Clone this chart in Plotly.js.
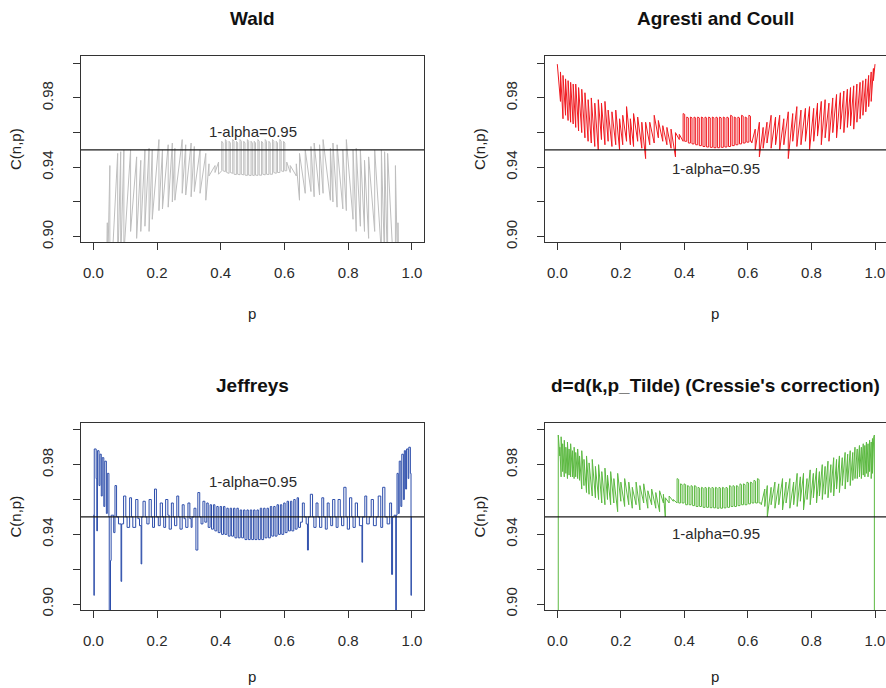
<!DOCTYPE html>
<html>
<head>
<meta charset="utf-8">
<script src="https://cdn.plot.ly/plotly-3.0.1.min.js"></script>
<style>
  html, body { margin: 0; padding: 0; background: #ffffff; overflow: hidden; }
  #chart { width: 886px; height: 688px; }
</style>
</head>
<body>
<div id="chart"></div>
<script>
// ---------------- DATA ----------------
// Each curve is listed by its jump points: p where the coverage jumps,
// the coverage right after the jump (At) and just before the next jump (To).

const panelTitles = ["Wald", "Agresti and Coull", "Jeffreys", "d=d(k,p_Tilde) (Cressie's correction)"];
const xTickVals = [0, 0.2, 0.4, 0.6, 0.8, 1.0];
const xTickText = ["0.0", "0.2", "0.4", "0.6", "0.8", "1.0"];
const yTickVals = [0.90, 0.92, 0.94, 0.96, 0.98, 1.00];
const yTickText = ["0.90", "", "0.94", "", "0.98", ""];
const nominalLevel = 0.95;
const nominalLabel = "1-alpha=0.95";
const nominalLabelC = [0.9605, 0.9394, 0.9705, 0.9407];

// Wald
const waldP = [
  0.040,0.044,0.052,0.0765,0.086,0.096,0.117,0.136,0.149,0.162,0.175,0.185,0.206,0.217,0.235,0.248,0.256,0.279,0.290,0.307,0.317,0.335,0.353,0.363,0.382,0.393,
  0.403,0.407,0.4145,0.4185,0.426,0.430,0.4375,0.4415,0.449,0.453,0.4605,0.4645,0.472,0.476,0.4835,0.4875,0.495,0.499,
  0.505,0.509,0.5165,0.5205,0.528,0.532,0.5395,0.5435,0.551,0.555,0.5625,0.5665,0.574,0.578,0.5855,0.5895,0.597,0.601,
  0.607,0.618,0.637,0.647,0.665,0.683,0.693,0.710,0.721,0.744,0.752,0.765,0.783,0.794,0.815,0.825,0.838,0.851,0.864,0.883,0.904,0.914,0.9235,0.948,0.956,0.960];
const waldAt = [
  0.850,0.870,0.860,0.880,0.885,0.890,0.903,0.899,0.903,0.906,0.903,0.910,0.915,0.916,0.917,0.920,0.921,0.925,0.924,0.923,0.926,0.925,0.921,0.935,0.937,0.936,
  0.955,0.938,0.956,0.937,0.955,0.937,0.956,0.936,0.955,0.936,0.956,0.936,0.955,0.9355,0.956,0.9355,0.955,0.9355,
  0.955,0.9355,0.956,0.9355,0.955,0.936,0.956,0.936,0.955,0.936,0.956,0.937,0.955,0.937,0.956,0.938,0.955,0.938,
  0.943,0.941,0.942,0.948,0.950,0.952,0.954,0.953,0.956,0.951,0.954,0.953,0.950,0.956,0.950,0.951,0.950,0.944,0.946,0.950,0.950,0.949,0.948,0.941,0.908,0.850];
const waldTo = [
  0.908,0.941,0.948,0.949,0.950,0.950,0.946,0.944,0.950,0.951,0.950,0.956,0.950,0.953,0.954,0.951,0.956,0.953,0.954,0.952,0.950,0.948,0.942,0.941,0.943,0.938,
  0.954,0.9375,0.955,0.9365,0.954,0.9365,0.955,0.9358,0.954,0.9357,0.955,0.9356,0.954,0.9353,0.955,0.9352,0.954,0.9352,
  0.954,0.9353,0.955,0.9354,0.954,0.9356,0.955,0.9358,0.954,0.936,0.955,0.9365,0.954,0.937,0.955,0.9375,0.954,0.938,
  0.937,0.935,0.921,0.925,0.926,0.923,0.924,0.925,0.921,0.920,0.917,0.916,0.915,0.910,0.903,0.906,0.903,0.899,0.903,0.890,0.885,0.880,0.860,0.870,0.850,0.850];

// Agresti and Coull
const agrestiP = [
  0.000,0.010,0.018,0.026,0.034,0.042,0.050,0.058,0.067,0.077,0.087,0.097,0.107,0.118,0.129,0.139,0.150,0.160,0.172,0.184,0.196,0.206,0.218,0.230,0.240,0.253,0.266,0.278,0.291,0.305,0.318,0.332,0.345,0.358,0.372,0.384,
  0.396,0.401,0.4075,0.4125,0.419,0.424,0.4305,0.4355,0.442,0.447,0.4535,0.4585,0.465,0.470,0.4765,0.4815,0.488,0.493,0.4995,0.5045,
  0.511,0.516,0.5225,0.5275,0.534,0.539,0.5455,0.5505,0.557,0.562,0.5685,0.5735,0.580,0.585,0.5915,0.5965,0.603,0.608,
  0.612,0.623,0.636,0.648,0.660,0.673,0.687,0.700,0.713,0.727,0.741,0.754,0.767,0.781,0.794,0.807,0.819,0.831,0.843,0.855,0.867,0.879,0.891,0.902,0.913,0.923,0.933,0.943,0.953,0.962,0.971,0.980,0.988,0.995,1.000];
const agrestiAt = [
  0.9995,0.995,0.993,0.991,0.990,0.989,0.988,0.988,0.986,0.985,0.983,0.979,0.980,0.977,0.979,0.977,0.978,0.973,0.972,0.973,0.968,0.970,0.975,0.968,0.971,0.969,0.966,0.966,0.966,0.970,0.967,0.964,0.963,0.962,0.960,0.959,
  0.971,0.955,0.969,0.954,0.969,0.9535,0.969,0.953,0.969,0.9525,0.969,0.952,0.969,0.9517,0.969,0.9515,0.969,0.9513,0.969,0.9513,
  0.969,0.9515,0.969,0.9517,0.969,0.952,0.970,0.9525,0.969,0.953,0.969,0.9535,0.970,0.954,0.969,0.9545,0.970,0.955,
  0.954,0.950,0.946,0.951,0.954,0.951,0.953,0.950,0.953,0.945,0.955,0.952,0.953,0.955,0.950,0.955,0.958,0.953,0.957,0.955,0.960,0.957,0.962,0.960,0.963,0.964,0.962,0.966,0.968,0.970,0.972,0.975,0.978,0.990,0.9995];
const agrestiTo = [
  0.978,0.968,0.970,0.967,0.966,0.965,0.963,0.961,0.960,0.957,0.955,0.954,0.952,0.950,0.956,0.953,0.955,0.952,0.953,0.950,0.953,0.955,0.953,0.952,0.955,0.951,0.945,0.953,0.954,0.957,0.955,0.953,0.951,0.946,0.956,0.955,
  0.9705,0.955,0.9685,0.954,0.9685,0.9535,0.9685,0.953,0.9685,0.9525,0.9685,0.952,0.9685,0.9517,0.9685,0.9515,0.9685,0.9513,0.9685,0.9513,
  0.9685,0.9515,0.9685,0.9517,0.9685,0.952,0.9695,0.9525,0.9685,0.953,0.9685,0.9535,0.9695,0.954,0.9685,0.9545,0.9695,0.955,
  0.962,0.966,0.963,0.966,0.970,0.969,0.970,0.968,0.972,0.971,0.975,0.973,0.974,0.975,0.974,0.977,0.978,0.979,0.977,0.980,0.982,0.983,0.984,0.985,0.986,0.987,0.988,0.989,0.990,0.991,0.993,0.995,0.997,0.9995,0.9995];

// Jeffreys (nearly flat between jumps: drawn as a step line)
const jeffreysP = [
  0.000,0.002,0.003,0.009,0.011,0.013,0.018,0.021,0.025,0.028,0.033,0.036,0.041,0.044,0.049,0.050,0.054,0.056,0.064,0.068,
  0.073,0.079,0.087,0.089,0.095,0.102,0.106,0.114,0.120,0.124,0.133,0.140,0.145,0.150,0.152,0.156,0.163,0.168,0.175,0.182,
  0.186,0.192,0.198,0.204,0.210,0.217,0.221,0.227,0.234,0.238,0.245,0.251,0.255,0.262,0.268,0.272,0.279,0.285,0.290,0.297,
  0.303,0.307,0.310,0.316,0.322,0.328,0.334,0.338,0.344,0.350,
  0.356,0.3605,0.3665,0.371,0.377,0.3815,0.3875,0.392,0.398,0.4025,0.4085,0.413,0.419,0.4235,0.4295,0.434,0.440,0.4445,0.4505,0.455,
  0.461,0.4655,0.4715,0.476,0.482,0.4865,0.4925,0.497,0.503,0.5075,0.5135,0.518,0.524,0.5285,0.5345,0.539,0.545,0.5495,0.5555,0.560,
  0.566,0.5705,0.5765,0.581,0.587,0.5915,0.5975,0.602,0.608,0.6125,0.6185,0.623,0.629,0.6335,0.6395,0.644,
  0.650,0.656,0.662,0.668,0.672,0.675,0.681,0.688,0.692,0.699,0.705,0.710,0.717,0.723,0.728,0.734,0.740,0.745,0.751,0.758,
  0.762,0.768,0.775,0.779,0.786,0.793,0.797,0.804,0.811,0.815,0.822,0.829,0.835,0.843,0.845,0.852,0.858,0.866,0.872,0.879,
  0.888,0.894,0.902,0.908,0.915,0.922,0.930,0.936,0.939,0.944,0.949,0.951,0.953,0.957,0.960,0.965,0.968,0.973,0.976,0.980,
  0.983,0.988,0.990,0.995,0.997,0.998,1.000];
const jeffreysC = [
  0.951,0.905,0.989,0.972,0.942,0.988,0.968,0.986,0.962,0.984,0.956,0.982,0.952,0.975,0.950,0.880,0.925,0.951,0.941,0.968,
  0.950,0.946,0.913,0.946,0.962,0.950,0.944,0.961,0.950,0.944,0.960,0.949,0.945,0.923,0.950,0.959,0.950,0.946,0.960,0.950,
  0.944,0.966,0.950,0.945,0.958,0.950,0.944,0.960,0.951,0.943,0.958,0.950,0.945,0.962,0.950,0.943,0.957,0.949,0.944,0.958,
  0.949,0.944,0.950,0.955,0.931,0.964,0.950,0.946,0.959,0.947,
  0.958,0.944,0.957,0.943,0.957,0.942,0.956,0.941,0.956,0.940,0.956,0.940,0.955,0.939,0.955,0.939,0.955,0.938,0.955,0.938,
  0.954,0.938,0.954,0.937,0.954,0.937,0.954,0.937,0.954,0.937,0.954,0.937,0.955,0.937,0.955,0.938,0.955,0.938,0.956,0.939,
  0.956,0.939,0.957,0.940,0.957,0.940,0.958,0.941,0.959,0.942,0.959,0.942,0.960,0.943,0.961,0.944,
  0.947,0.958,0.950,0.946,0.931,0.950,0.963,0.950,0.944,0.958,0.950,0.944,0.961,0.950,0.943,0.958,0.950,0.945,0.960,0.950,
  0.944,0.960,0.950,0.945,0.967,0.950,0.943,0.961,0.950,0.944,0.958,0.950,0.945,0.924,0.950,0.962,0.946,0.950,0.960,0.945,
  0.950,0.962,0.944,0.967,0.950,0.946,0.958,0.917,0.950,0.951,0.880,0.951,0.975,0.952,0.982,0.956,0.986,0.960,0.988,0.966,
  0.989,0.972,0.990,0.975,0.905,0.950,0.950];

// Cressie's correction
const cressieP = [
  0.000,0.003,0.008,0.012,0.017,0.022,0.027,0.032,0.037,0.042,0.048,0.053,0.058,0.064,0.070,0.077,0.084,0.092,0.100,0.110,0.120,0.130,0.140,0.150,0.158,0.168,0.178,0.190,0.200,0.212,0.225,0.236,0.248,0.260,0.272,0.285,0.297,0.310,0.322,0.334,0.340,0.352,0.365,
  0.377,0.382,0.388,0.393,0.399,0.404,0.410,0.415,0.421,0.426,0.432,0.437,0.443,0.448,0.454,0.459,0.465,0.470,0.476,0.481,0.487,0.492,0.498,0.503,
  0.509,0.514,0.520,0.525,0.531,0.536,0.542,0.547,0.553,0.558,0.564,0.569,0.575,0.580,0.586,0.591,0.597,0.602,0.608,0.613,0.619,0.624,0.630,0.635,
  0.642,0.653,0.661,0.673,0.685,0.697,0.709,0.720,0.732,0.744,0.755,0.765,0.775,0.786,0.796,0.806,0.816,0.825,0.834,0.843,0.852,0.861,0.870,0.879,0.888,0.897,0.906,0.914,0.922,0.930,0.937,0.944,0.951,0.957,0.963,0.968,0.973,0.978,0.983,0.988,0.992,0.996,0.998,1.000];
const cressieAt = [
  0.880,0.997,0.990,0.996,0.992,0.994,0.990,0.993,0.989,0.992,0.988,0.990,0.987,0.989,0.985,0.988,0.983,0.985,0.981,0.983,0.979,0.980,0.976,0.978,0.974,0.976,0.972,0.975,0.970,0.972,0.970,0.967,0.970,0.968,0.969,0.965,0.966,0.964,0.965,0.963,0.961,0.962,0.960,
  0.972,0.958,0.969,0.958,0.969,0.957,0.968,0.957,0.968,0.9565,0.968,0.956,0.967,0.956,0.967,0.9555,0.967,0.9555,0.967,0.9553,0.967,0.9552,0.967,0.955,
  0.967,0.955,0.967,0.9552,0.967,0.9555,0.968,0.956,0.968,0.956,0.968,0.9565,0.969,0.957,0.969,0.957,0.970,0.9575,0.970,0.958,0.971,0.958,0.972,0.958,
  0.957,0.956,0.950,0.957,0.955,0.957,0.954,0.958,0.955,0.957,0.956,0.959,0.954,0.960,0.957,0.961,0.958,0.962,0.960,0.963,0.961,0.964,0.962,0.966,0.964,0.968,0.966,0.970,0.968,0.971,0.972,0.972,0.973,0.972,0.974,0.973,0.975,0.973,0.976,0.972,0.975,0.973,0.880,0.880];
const cressieTo = [
  0.880,0.985,0.973,0.976,0.973,0.975,0.972,0.974,0.973,0.973,0.972,0.973,0.972,0.971,0.966,0.968,0.964,0.963,0.962,0.961,0.960,0.958,0.957,0.960,0.957,0.958,0.953,0.959,0.956,0.957,0.955,0.957,0.954,0.958,0.955,0.957,0.955,0.953,0.958,0.950,0.958,0.959,0.958,
  0.9715,0.958,0.9685,0.958,0.9685,0.957,0.9675,0.957,0.9675,0.9565,0.9675,0.956,0.9665,0.956,0.9665,0.9555,0.9665,0.9555,0.9665,0.9553,0.9665,0.9552,0.9665,0.955,
  0.9665,0.955,0.9665,0.9552,0.9665,0.9555,0.9675,0.956,0.9675,0.956,0.9675,0.9565,0.9685,0.957,0.9685,0.957,0.9695,0.9575,0.9695,0.958,0.9705,0.958,0.9715,0.958,
  0.966,0.968,0.967,0.970,0.969,0.972,0.970,0.972,0.970,0.975,0.973,0.975,0.972,0.977,0.975,0.978,0.976,0.980,0.979,0.982,0.980,0.984,0.983,0.985,0.984,0.987,0.986,0.988,0.987,0.990,0.989,0.991,0.990,0.992,0.991,0.993,0.992,0.994,0.993,0.995,0.996,0.997,0.880,0.880];

// ---------------- RENDERING ----------------
function sawtooth(P, At, To) {
  const x = [], y = [];
  for (let i = 0; i < P.length; i++) {
    x.push(P[i]); y.push(At[i]);
    if (i + 1 < P.length) { x.push(P[i + 1]); y.push(To[i]); }
  }
  return { x, y };
}

const W = 886, H = 688;
const FONT = "Liberation Sans, Arial, Helvetica, sans-serif";
const colors = ["#bebebe", "#f01a20", "#2d4eab", "#5cb941"];

// plot boxes in pixels: [left, right, top, bottom]
const boxes = [
  [81, 424, 56, 242],
  [545, 886, 56, 242],
  [81, 424, 423, 610],
  [545, 886, 423, 610]
];
const xRanges = [[-0.0386, 1.0377], [-0.0387, 1.0346], [-0.0386, 1.0377], [-0.0387, 1.0346]];
const yRanges = [[0.8969, 1.0042], [0.8969, 1.0042], [0.8966, 1.0039], [0.8966, 1.0039]];
const xTitleOffset = [72, 72, 66, 66];

const w1 = sawtooth(waldP, waldAt, waldTo);
const a1 = sawtooth(agrestiP, agrestiAt, agrestiTo);
const c1 = sawtooth(cressieP, cressieAt, cressieTo);

const traces = [
  { x: w1.x, y: w1.y, xaxis: "x", yaxis: "y", mode: "lines", line: { color: colors[0], width: 1 }, hoverinfo: "skip" },
  { x: a1.x, y: a1.y, xaxis: "x2", yaxis: "y2", mode: "lines", line: { color: colors[1], width: 1 }, hoverinfo: "skip" },
  { x: jeffreysP, y: jeffreysC, xaxis: "x3", yaxis: "y3", mode: "lines", line: { color: colors[2], width: 1, shape: "hv" }, hoverinfo: "skip" },
  { x: c1.x, y: c1.y, xaxis: "x4", yaxis: "y4", mode: "lines", line: { color: colors[3], width: 1 }, hoverinfo: "skip" }
];

const layout = {
  width: W, height: H,
  margin: { l: 0, r: 0, t: 0, b: 0 },
  paper_bgcolor: "#ffffff", plot_bgcolor: "#ffffff",
  showlegend: false,
  font: { family: FONT, size: 15, color: "#222222" },
  shapes: [], annotations: []
};

const axisCommon = {
  showline: true, mirror: true, linecolor: "#333333", linewidth: 1,
  ticks: "outside", ticklen: 7, tickwidth: 1, tickcolor: "#333333",
  showgrid: false, zeroline: false, fixedrange: true,
  tickfont: { family: FONT, size: 15, color: "#2a2a2a" }
};

for (let k = 0; k < 4; k++) {
  const [l, r, t, b] = boxes[k];
  const sfx = k === 0 ? "" : String(k + 1);
  layout["xaxis" + sfx] = Object.assign({}, axisCommon, {
    domain: [l / W, Math.min(r / W, 1)],
    anchor: "y" + sfx,
    range: xRanges[k],
    tickmode: "array", tickvals: xTickVals, ticktext: xTickText,
    ticklabelstandoff: 10
  });
  layout["yaxis" + sfx] = Object.assign({}, axisCommon, {
    domain: [1 - b / H, 1 - t / H],
    anchor: "x" + sfx,
    range: yRanges[k],
    tickmode: "array", tickvals: yTickVals, ticktext: yTickText,
    tickangle: -90,
    ticklabelstandoff: 14
  });
  layout.shapes.push({
    type: "line", xref: "x" + sfx + " domain", x0: 0, x1: 1,
    yref: "y" + sfx, y0: nominalLevel, y1: nominalLevel,
    line: { color: "#1a1a1a", width: 1.2 }, layer: "above"
  });
  // panel title
  layout.annotations.push({
    text: panelTitles[k], xref: "paper", yref: "paper",
    x: (k % 2 === 0 ? 252 : 715) / W, y: 1 - (t - 38) / H,
    xanchor: "center", yanchor: "middle", showarrow: false,
    font: { family: FONT, size: 19, color: "#111111", weight: "bold" }
  });
  // x axis title
  layout.annotations.push({
    text: "p", xref: "paper", yref: "paper",
    x: (k % 2 === 0 ? 252 : 715) / W, y: 1 - (b + xTitleOffset[k]) / H,
    xanchor: "center", yanchor: "middle", showarrow: false,
    font: { family: FONT, size: 15, color: "#222222" }
  });
  // y axis title
  layout.annotations.push({
    text: "C(n,p)", xref: "paper", yref: "paper",
    x: (l - 66) / W, y: 1 - ((t + b) / 2) / H,
    xanchor: "center", yanchor: "middle", showarrow: false, textangle: -90,
    font: { family: FONT, size: 15, color: "#222222" }
  });
  // nominal level label
  layout.annotations.push({
    text: nominalLabel, xref: "x" + sfx, yref: "y" + sfx,
    x: 0.5, y: nominalLabelC[k],
    xanchor: "center", yanchor: "middle", showarrow: false,
    font: { family: FONT, size: 15, color: "#2a2a2a" }
  });
}

Plotly.newPlot("chart", traces, layout, { staticPlot: true, displayModeBar: false });
</script>
</body>
</html>
